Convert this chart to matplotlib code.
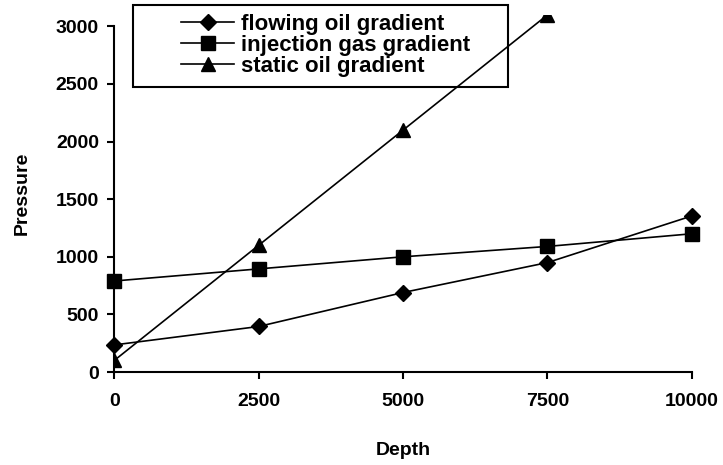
import matplotlib.pyplot as plt
from matplotlib.patches import Rectangle

# data
depth = [0, 2500, 5000, 7500, 10000]
flowing_oil = [235, 395, 690, 950, 1355]
injection_gas = [790, 895, 1000, 1090, 1200]
static_depth = [0, 2500, 5000, 7500]
static_oil = [100, 1100, 2100, 3100]

plt.rcParams['font.family'] = ['Liberation Sans', 'DejaVu Sans']
plt.rcParams['font.weight'] = 'bold'

W, H = 723, 465
fig = plt.figure(figsize=(W / 100, H / 100), dpi=100)
ax = fig.add_axes([0.158, 0.2, 0.799, 0.768])

ax.plot(depth, flowing_oil, color='black', lw=1.2, marker='D', ms=8,
        label='flowing oil gradient', clip_on=False, zorder=3)
ax.plot(depth, injection_gas, color='black', lw=1.2, marker='s', ms=10,
        label='injection gas gradient', clip_on=False, zorder=3)
ax.plot(static_depth, static_oil, color='black', lw=1.2, marker='^', ms=10,
        label='static oil gradient', zorder=3)

ax.set_xlim(0, 10000)
ax.set_ylim(0, 3100)
ax.set_xticks([0, 2500, 5000, 7500, 10000])
ax.set_yticks([0, 500, 1000, 1500, 2000, 2500, 3000])
ax.spines['top'].set_visible(False)
ax.spines['right'].set_visible(False)
ax.spines['left'].set_bounds(0, 3000)
for s in ('left', 'bottom'):
    ax.spines[s].set_linewidth(1.5)
ax.tick_params(direction='out', length=5, width=1.5, labelsize=14, pad=6)
ax.tick_params(axis='x', pad=10)

ax.set_xlabel('Depth', fontsize=14, fontweight='bold', labelpad=23)
ax.set_ylabel('Pressure', fontsize=14, fontweight='bold', labelpad=18)

# legend without its own frame, box drawn separately (wide side padding)
leg = fig.legend(loc='upper left', bbox_to_anchor=(170 / W, 1 - 3 / H),
                 fontsize=16, frameon=False, handlelength=2.4,
                 borderpad=0, labelspacing=0.0, handletextpad=0.3)
for t in leg.get_texts():
    t.set_fontweight('bold')
fig.patches.append(Rectangle((133 / W, 1 - 87 / H), 375 / W, 82 / H,
                             transform=fig.transFigure, fill=False,
                             edgecolor='black', lw=1.5))

fig.savefig('out.png', dpi=100)
